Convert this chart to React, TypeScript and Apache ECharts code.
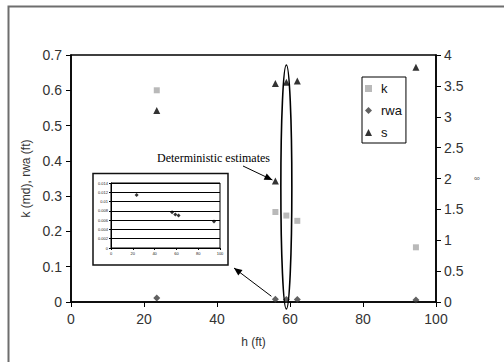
import React, { useEffect, useRef } from "react";
import * as echarts from "echarts";

// Sample thickness h (ft) and estimates
const hValues = [23.5, 56, 59, 62, 94.5];
const kValues = [0.6, 0.255, 0.245, 0.23, 0.155];
const rwaValues = [0.0114, 0.0077, 0.0072, 0.007, 0.0057];
const sHValues = [23.5, 56, 56, 59, 62, 94.5];
const sValues = [3.1, 1.96, 3.54, 3.56, 3.58, 3.8];
const legendNames = ["k", "rwa", "s"];
const annotationText = "Deterministic estimates";

function arrowHead(x1: number, y1: number, x2: number, y2: number, len = 8, half = 3.5) {
  const dx = x2 - x1;
  const dy = y2 - y1;
  const d = Math.sqrt(dx * dx + dy * dy);
  const ux = dx / d;
  const uy = dy / d;
  const bx = x2 - ux * len;
  const by = y2 - uy * len;
  return [
    [x2, y2],
    [bx - uy * half, by + ux * half],
    [bx + uy * half, by - ux * half],
  ];
}

export default function App() {
  const ref = useRef<HTMLDivElement>(null);
  useEffect(() => {
    if (!ref.current) return;
    const chart = echarts.init(ref.current, undefined, { renderer: "svg" });
    const font = "Liberation Sans, Arial, sans-serif";
    const axisLine = { show: true, lineStyle: { color: "#000", width: 1.5 } };
    chart.setOption({
      animation: false,
      backgroundColor: "#fff",
      textStyle: { fontFamily: font },
      grid: [
        { left: 71, top: 55, right: 68, bottom: 60, show: true, borderColor: "#000", borderWidth: 1.5 },
        { left: 111, top: 183, width: 109, height: 65, show: true, borderColor: "#000", borderWidth: 1, z: 5 },
      ],
      legend: {
        data: legendNames,
        orient: "vertical",
        left: 362,
        top: 77,
        padding: [5, 4, 4, 3],
        itemGap: 9,
        itemWidth: 7,
        itemHeight: 7,
        borderColor: "#000",
        borderWidth: 1,
        backgroundColor: "#fff",
        textStyle: { fontSize: 13, color: "#111", fontFamily: font, padding: [0, 0, 0, 4] },
      },
      xAxis: [
        {
          type: "value",
          gridIndex: 0,
          min: 0,
          max: 100,
          interval: 20,
          name: "h (ft)",
          nameLocation: "middle",
          nameGap: 34,
          nameTextStyle: { fontSize: 12, color: "#333" },
          axisLine,
          axisTick: { show: true, inside: false, length: 5, lineStyle: { color: "#000" } },
          axisLabel: { fontSize: 14, color: "#333", margin: 10 },
          splitLine: { show: false },
        },
        {
          type: "value",
          gridIndex: 1,
          min: 0,
          max: 100,
          interval: 20,
          axisLine: { show: true, lineStyle: { color: "#000", width: 1 } },
          axisTick: { show: true, length: 2, lineStyle: { color: "#000" } },
          axisLabel: { fontSize: 4, color: "#222", margin: 3 },
          splitLine: { show: false },
        },
      ],
      yAxis: [
        {
          type: "value",
          gridIndex: 0,
          min: 0,
          max: 0.7,
          interval: 0.1,
          name: "k (md), rwa (ft)",
          nameLocation: "middle",
          nameGap: 33,
          nameTextStyle: { fontSize: 12, color: "#333" },
          axisLine,
          axisTick: { show: true, length: 5, lineStyle: { color: "#000" } },
          axisLabel: { fontSize: 14, color: "#333", margin: 9 },
          splitLine: { show: false },
        },
        {
          type: "value",
          gridIndex: 0,
          position: "right",
          min: 0,
          max: 4,
          interval: 0.5,
          name: "∞",
          nameLocation: "middle",
          nameRotate: 0,
          nameGap: 38,
          nameTextStyle: { fontSize: 8, color: "#555" },
          axisLine,
          axisTick: { show: true, length: 5, lineStyle: { color: "#000" } },
          axisLabel: { fontSize: 14, color: "#333", margin: 8 },
          splitLine: { show: false },
        },
        {
          type: "value",
          gridIndex: 1,
          min: 0,
          max: 0.014,
          interval: 0.002,
          axisLine: { show: true, lineStyle: { color: "#000", width: 1 } },
          axisTick: { show: true, length: 2, lineStyle: { color: "#000" } },
          axisLabel: { fontSize: 4, color: "#222", margin: 3 },
          splitLine: { show: true, lineStyle: { color: "#000", width: 1 } },
        },
      ],
      series: [
        {
          name: "k",
          type: "scatter",
          xAxisIndex: 0,
          yAxisIndex: 0,
          symbol: "rect",
          symbolSize: 6,
          itemStyle: { color: "#a8a8a8" },
          data: hValues.map((h, i) => [h, kValues[i]]),
        },
        {
          name: "rwa",
          type: "scatter",
          xAxisIndex: 0,
          yAxisIndex: 0,
          symbol: "diamond",
          symbolSize: 7,
          itemStyle: { color: "#3a3a3a" },
          data: hValues.map((h, i) => [h, rwaValues[i]]),
        },
        {
          name: "s",
          type: "scatter",
          xAxisIndex: 0,
          yAxisIndex: 1,
          symbol: "triangle",
          symbolSize: 7,
          itemStyle: { color: "#000" },
          data: sHValues.map((h, i) => [h, sValues[i]]),
        },
        {
          name: "rwa inset",
          type: "scatter",
          xAxisIndex: 1,
          yAxisIndex: 2,
          symbol: "diamond",
          symbolSize: 4,
          z: 10,
          itemStyle: { color: "#000" },
          data: hValues.map((h, i) => [h, rwaValues[i]]),
        },
      ],
    });

    const px = (h: number) => chart.convertToPixel({ xAxisIndex: 0 }, h) as number;
    const pyS = (v: number) => chart.convertToPixel({ yAxisIndex: 1 }, v) as number;
    const pyK = (v: number) => chart.convertToPixel({ yAxisIndex: 0 }, v) as number;

    const ex = px(hValues[2]);
    const detX = px(sHValues[1]);
    const detY = pyS(sValues[1]);
    const a1s = [243, 166];
    const a1e = [detX - 3, detY - 1];
    const rwX = px(hValues[1]);
    const rwY = pyK(rwaValues[1]);
    const a2s = [rwX - 4, rwY - 3];
    const a2e = [234, 268];

    chart.setOption({
      graphic: [
        {
          type: "rect",
          z: -10,
          shape: { x: 8.5, y: 6.5, width: 560, height: 420 },
          style: { fill: "none", stroke: "#6e6e6e", lineWidth: 2 },
        },
        {
          type: "rect",
          z: -5,
          shape: { x: 93, y: 173.5, width: 135, height: 91.5 },
          style: { fill: "#fff", stroke: "#111", lineWidth: 1.5 },
        },
        {
          type: "ellipse",
          z: 20,
          shape: { cx: ex, cy: 187, rx: 5.5, ry: 122 },
          style: { fill: "none", stroke: "#000", lineWidth: 1.6 },
        },
        {
          type: "text",
          z: 20,
          x: 157,
          y: 158,
          style: {
            text: annotationText,
            font: "12px 'Liberation Serif', 'Times New Roman', serif",
            fill: "#000",
            verticalAlign: "middle",
          },
        },
        {
          type: "line",
          z: 20,
          shape: { x1: a1s[0], y1: a1s[1], x2: a1e[0], y2: a1e[1] },
          style: { stroke: "#000", lineWidth: 1 },
        },
        {
          type: "polygon",
          z: 20,
          shape: { points: arrowHead(a1s[0], a1s[1], a1e[0], a1e[1]) },
          style: { fill: "#000" },
        },
        {
          type: "line",
          z: 20,
          shape: { x1: a2s[0], y1: a2s[1], x2: a2e[0], y2: a2e[1] },
          style: { stroke: "#000", lineWidth: 1 },
        },
        {
          type: "polygon",
          z: 20,
          shape: { points: arrowHead(a2s[0], a2s[1], a2e[0], a2e[1]) },
          style: { fill: "#000" },
        },
      ],
    });

    return () => chart.dispose();
  }, []);

  return (
    <div
      ref={ref}
      style={{ position: "fixed", left: 0, top: 0, width: 504, height: 362, background: "#fff" }}
    />
  );
}
